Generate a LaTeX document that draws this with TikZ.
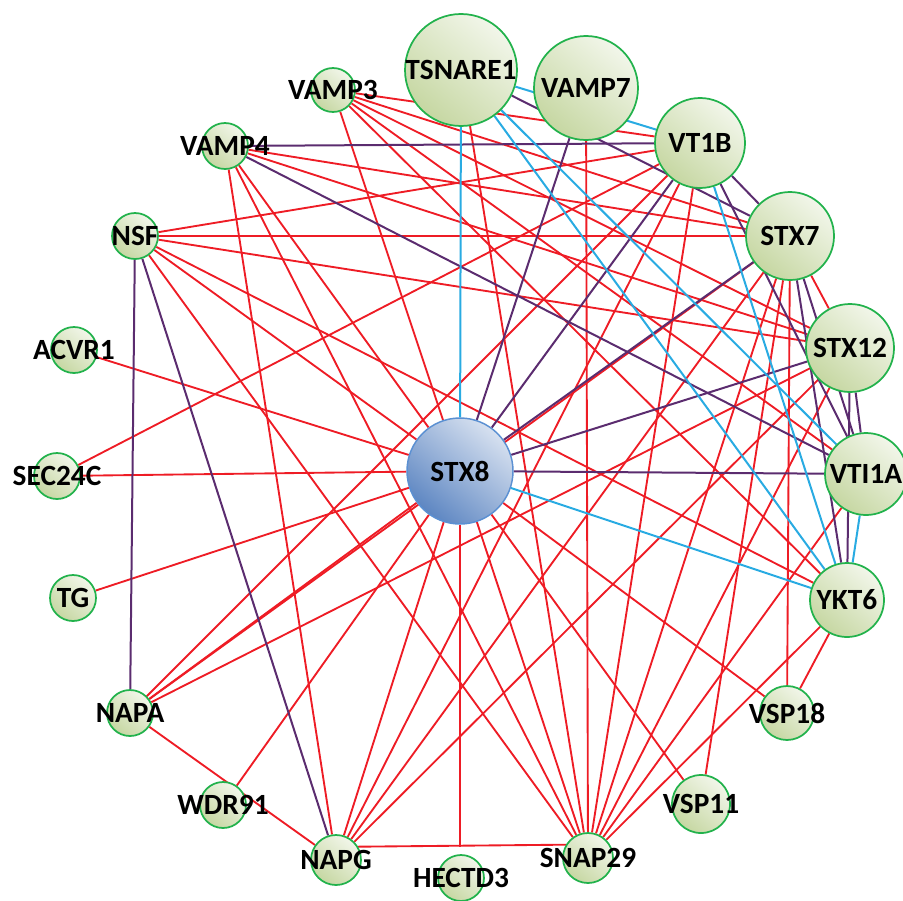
\documentclass[tikz,border=0pt]{standalone}
\usepackage{fontspec}
\setmainfont{Carlito}
\usetikzlibrary{backgrounds}
\definecolor{nred}{HTML}{EE1C25}
\definecolor{npur}{HTML}{5B2C6F}
\definecolor{nblu}{HTML}{29ABE2}
\definecolor{ngrn}{HTML}{22B24C}
\definecolor{gl}{HTML}{F2F6EA}
\definecolor{gd}{HTML}{C6D7A2}
\definecolor{bl}{HTML}{D7E1F0}
\definecolor{bd}{HTML}{5D86C2}
\definecolor{bbord}{HTML}{5B90D2}
\tikzset{
  lab/.style={font=\bfseries\fontsize{22}{22}\selectfont, text=black, inner sep=0pt},
  gene/.style={circle, draw=ngrn, line width=1.3pt, inner sep=0pt,
    top color=gl, bottom color=gd, shading angle=-40, minimum size=#1*1.5pt},
  hub/.style={circle, draw=bbord, line width=1.1pt, inner sep=0pt,
    top color=bl, bottom color=bd, shading angle=-40, minimum size=#1*1.5pt},
  re/.style={draw=nred, line width=1.4pt},
  pu/.style={draw=npur, line width=1.5pt},
  bu/.style={draw=nblu, line width=1.5pt}
}
\begin{document}
\begin{tikzpicture}[x=0.75pt, y=-0.75pt]
\useasboundingbox (0,0) rectangle (903,900);
\node[gene=56, label={[lab]center:TSNARE1}] (TSNARE1) at (461,70) {};
\node[gene=52, label={[lab]center:VAMP7}] (VAMP7) at (586,88) {};
\node[gene=45, label={[lab]center:VT1B}] (VT1B) at (700,143) {};
\node[gene=44, label={[lab]center:STX7}] (STX7) at (790,236) {};
\node[gene=44, label={[lab]center:STX12}] (STX12) at (850,348) {};
\node[gene=41, label={[lab]center:VTI1A}] (VTI1A) at (866,474) {};
\node[gene=37, label={[lab]center:YKT6}] (YKT6) at (847,600) {};
\node[gene=27, label={[lab]center:VSP18}] (VSP18) at (787,713) {};
\node[gene=29, label={[lab]center:VSP11}] (VSP11) at (701,804) {};
\node[gene=25, label={[lab]center:SNAP29}] (SNAP29) at (588,858) {};
\node[gene=23, label={[lab]center:HECTD3}] (HECTD3) at (461,878) {};
\node[gene=25, label={[lab]center:NAPG}] (NAPG) at (336,860) {};
\node[gene=23, label={[lab]center:WDR91}] (WDR91) at (223,805) {};
\node[gene=23, label={[lab]center:NAPA}] (NAPA) at (130,713) {};
\node[gene=23, label={[lab]center:TG}] (TG) at (73,598) {};
\node[gene=23, label={[lab]center:SEC24C}] (SEC24C) at (57,476) {};
\node[gene=23, label={[lab]center:ACVR1}] (ACVR1) at (74,350) {};
\node[gene=23, label={[lab]center:NSF}] (NSF) at (135,236) {};
\node[gene=23, label={[lab]center:VAMP4}] (VAMP4) at (225,146) {};
\node[gene=22, label={[lab]center:VAMP3}] (VAMP3) at (333,90) {};
\node[hub=53, label={[lab]center:STX8}] (STX8) at (460,471) {};
\coordinate (hj) at (STX8 |- NAPG.31);
\begin{pgfonlayer}{background}
% red
\foreach \a/\b in {STX8/ACVR1, STX8/SEC24C, STX8/TG, STX8/NAPA, STX8/WDR91, STX8/NAPG,
  STX8/SNAP29, STX8/VSP18, STX8/NSF, STX8/VAMP4, STX8/VAMP3, STX8/VSP11,
  VAMP3/VT1B, VAMP3/STX7, VAMP3/STX12, VAMP3/VTI1A, VAMP3/YKT6,
  VAMP4/STX7, VAMP4/STX12, VAMP4/NAPG, VAMP4/SNAP29,
  NSF/VT1B, NSF/STX7, NSF/STX12, NSF/YKT6, NSF/SNAP29,
  SEC24C/VT1B,
  NAPA/VT1B, NAPA/STX7, NAPA/STX12, NAPA/NAPG,
  NAPG/VT1B, NAPG/STX7, NAPG/STX12,
  SNAP29/VAMP7, SNAP29/STX7, SNAP29/STX12, SNAP29/VTI1A, SNAP29/YKT6, SNAP29/VT1B,
  VSP11/STX7, VSP18/STX7, VSP18/YKT6, STX7/STX12, TSNARE1/SNAP29}
  \draw[re] (\a) -- (\b);
\draw[re] (NAPG.31) -- (SNAP29.149);
\draw[re] (STX8) -- (hj);
% purple
\foreach \a/\b in {VAMP4/VT1B, VAMP4/VTI1A, NSF/NAPA, NSF/NAPG, STX8/VAMP7, STX8/VT1B,
  STX8/STX7, STX8/STX12, STX8/VTI1A, VT1B/STX7, VT1B/VTI1A, STX7/VTI1A, STX7/YKT6,
  STX12/VTI1A, STX12/YKT6, TSNARE1/STX7}
  \draw[pu] (\a) -- (\b);
% blue
\foreach \a/\b in {TSNARE1/STX8, TSNARE1/VT1B, TSNARE1/VTI1A, TSNARE1/YKT6, VT1B/YKT6,
  STX8/YKT6, VTI1A/YKT6}
  \draw[bu] (\a) -- (\b);
\end{pgfonlayer}
\end{tikzpicture}
\end{document}
